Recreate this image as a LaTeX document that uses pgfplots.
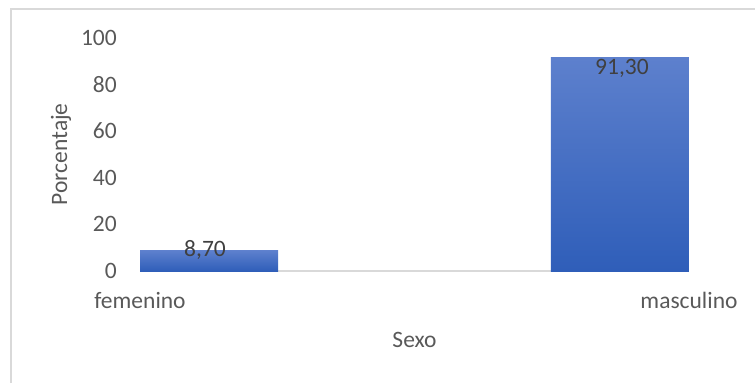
\documentclass[border=0pt]{standalone}
\usepackage{fontspec}
\setmainfont{Carlito}
\usepackage{pgfplots}
\pgfplotsset{compat=1.18}
\definecolor{tickgray}{HTML}{595959}
\definecolor{labgray}{HTML}{404040}
\definecolor{linegray}{HTML}{D9D9D9}
\definecolor{bartop}{RGB}{93,128,205}
\definecolor{barbot}{RGB}{47,94,185}
\begin{document}
\begin{tikzpicture}[font=\fontsize{23.5}{28}\selectfont]
\useasboundingbox (0,0) rectangle (755pt,383pt);
\draw[linegray, line width=1.2pt] (11pt,0pt) -- (11pt,374pt) -- (755pt,374pt);
\begin{axis}[
  at={(140pt,112pt)}, anchor=south west,
  scale only axis, width=549pt, height=233.5pt,
  xmin=-0.168, xmax=1.168, ymin=0, ymax=100,
  clip=false,
  axis line style={draw=none},
  major tick length=0pt,
  ytick={0,20,40,60,80,100},
  xtick={-0.168,1.168}, xticklabels={femenino,masculino},
  /pgf/number format/assume math mode=true,
  yticklabel style={anchor=east, inner sep=0pt, xshift=-23pt, text=tickgray},
  xticklabel style={anchor=base, inner sep=0pt, yshift=-37pt, text=tickgray},
  xlabel={Sexo}, ylabel={Porcentaje},
  xlabel style={at={(axis description cs:0.5,0)}, anchor=base, inner sep=0pt, yshift=-76pt, text=tickgray},
  ylabel style={at={(axis description cs:-0.1439,0.5)}, anchor=center, text=tickgray},
]
\draw[linegray, line width=1.5pt] (axis cs:-0.168,0) -- (axis cs:1.168,0);
\addplot[ybar, bar width=138pt, bar shift=0pt, draw=none, top color=bartop, bottom color=barbot,
  nodes near coords={8,70},
  nodes near coords style={anchor=center, inner sep=0pt, text=labgray, yshift=1pt, xshift=-4pt}]
  coordinates {(0,8.7)};
\addplot[ybar, bar width=138pt, bar shift=0pt, draw=none, top color=bartop, bottom color=barbot,
  nodes near coords={91,30},
  nodes near coords style={anchor=north, inner sep=0pt, text=labgray, yshift=-1pt, xshift=2pt}]
  coordinates {(1,91.3)};
\end{axis}
\end{tikzpicture}
\end{document}
